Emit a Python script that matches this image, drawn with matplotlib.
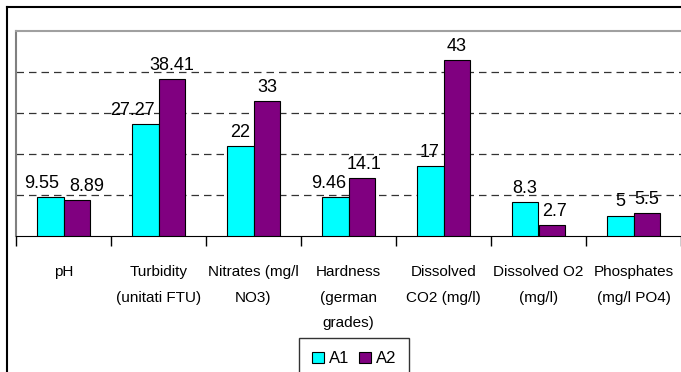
import matplotlib
matplotlib.use("Agg")
import matplotlib.pyplot as plt
from matplotlib import font_manager
from matplotlib.lines import Line2D

# parameters measured for the two samples
categories = ["pH", "Turbidity\n(unitati FTU)", "Nitrates (mg/l\nNO3)",
              "Hardness\n(german\ngrades)", "Dissolved\nCO2 (mg/l)",
              "Dissolved O2\n(mg/l)", "Phosphates\n(mg/l PO4)"]
a1 = [9.55, 27.27, 22, 9.46, 17, 8.3, 5]
a2 = [8.89, 38.41, 33, 14.1, 43, 2.7, 5.5]
series_names = ["A1", "A2"]

# sideways nudges (pixels) so neighbouring value labels don't collide
nudge1 = [-8, -13, 0, -6, 0, 0, 0]
nudge2 = [10, 0, 0, 2, 0, 3, 0]

# prefer a narrow Arial-like face if the system has one
names = {f.name for f in font_manager.fontManager.ttflist}
if "Liberation Sans Narrow" in names:
    font = "Liberation Sans Narrow"
    cat_size, val_size, leg_size = 12.5, 14, 12.5
else:
    font = "Liberation Sans"
    cat_size, val_size, leg_size = 11, 13, 12
plt.rcParams["font.family"] = [font, "DejaVu Sans"]

W, H = 681, 372
fig = plt.figure(figsize=(W / 100, H / 100), dpi=100)
ax = fig.add_axes([16 / W, 1 - 236 / H, (681 - 16) / W, (236 - 31) / H])

x = list(range(len(categories)))
bw = 0.284
b1 = ax.bar([i - bw / 2 for i in x], a1, bw, color="#00FFFF",
            edgecolor="black", linewidth=0.8, label=series_names[0], zorder=3)
b2 = ax.bar([i + bw / 2 for i in x], a2, bw, color="#800080",
            edgecolor="black", linewidth=0.8, label=series_names[1], zorder=3)

for bars, vals, nudge in ((b1, a1, nudge1), (b2, a2, nudge2)):
    for rect, v, dx in zip(bars, vals, nudge):
        ax.annotate(f"{v:g}", (rect.get_x() + rect.get_width() / 2, v),
                    xytext=(dx, 5), textcoords="offset pixels",
                    ha="center", va="bottom", fontsize=val_size, zorder=4)

ax.set_xlim(-0.5, len(categories) - 0.5)
ax.set_ylim(0, 50)
ax.set_yticks([10, 20, 30, 40])
ax.yaxis.grid(True, linestyle=(0, (6, 4)), color="#333333", linewidth=0.9)
ax.tick_params(axis="y", left=False, labelleft=False)

ax.set_xticks(x)
ax.set_xticklabels(categories, fontsize=cat_size, linespacing=2.05)
ax.set_xticks([i - 0.5 for i in range(len(categories) + 1)], minor=True)
ax.tick_params(axis="x", which="major", length=0, pad=21)
ax.tick_params(axis="x", which="minor", length=7, width=1, color="black",
               direction="out")

ax.spines["bottom"].set_color("black")
ax.spines["left"].set_color("#808080")
ax.spines["left"].set_linewidth(1.5)
ax.spines["top"].set_color("#a0a0a0")
ax.spines["top"].set_linewidth(1.5)
ax.spines["right"].set_visible(False)

leg = ax.legend(loc="upper center", bbox_to_anchor=(354 / W, 1 - 338 / H),
                bbox_transform=fig.transFigure, ncol=2, fontsize=leg_size,
                frameon=True, fancybox=False, edgecolor="black",
                handlelength=0.7, handleheight=0.7, handletextpad=0.3,
                columnspacing=0.6, borderpad=0.8, borderaxespad=0)
leg.get_frame().set_linewidth(1)

# chart frame
fig.add_artist(Line2D([7 / W, 7 / W], [0, 1 - 7 / H], transform=fig.transFigure,
                      color="black", linewidth=1.5))
fig.add_artist(Line2D([7 / W, 1], [1 - 7 / H, 1 - 7 / H], transform=fig.transFigure,
                      color="black", linewidth=1.5))

fig.savefig("out.png", dpi=100)
